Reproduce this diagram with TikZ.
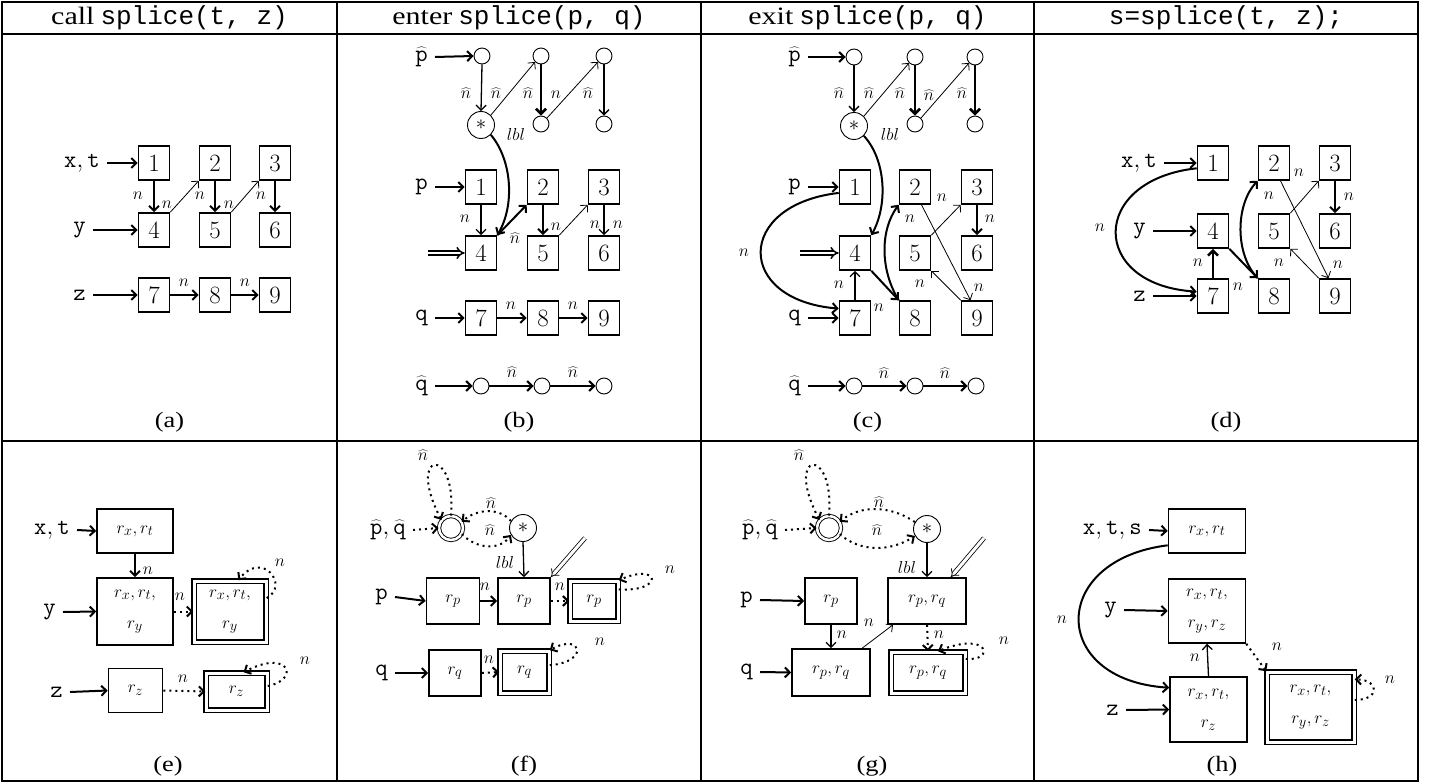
\documentclass[tikz,border=0pt]{standalone}
\usepackage{fontspec}
\setmainfont{Liberation Serif}
\newfontfamily\hdrserif[FakeStretch=1.2]{Liberation Serif}
\newfontfamily\cour{Liberation Mono}
\usetikzlibrary{arrows.meta}
\tikzset{
 arw/.style={-{Straight Barb[length=5pt,width=10pt]}},
 frm/.style={line width=1.8pt},
 bx/.style={draw, line width=1.6pt, minimum width=31pt, minimum height=34pt, inner sep=0pt, font=\fontsize{28}{28}\selectfont},
 rb/.style={draw, line width=1.6pt, inner sep=0pt, font=\fontsize{19}{31}\selectfont, align=center},
 dbx/.style={rb, double, double distance=3pt, line width=1.5pt},
 circ/.style={draw, circle, line width=0.9pt, minimum size=16pt, inner sep=0pt},
 starc/.style={circ, minimum size=27pt, font=\fontsize{20}{20}\selectfont},
 dcirc/.style={draw, circle, double, double distance=2.5pt, line width=0.9pt, minimum size=24pt, inner sep=0pt},
 lab/.style={inner xsep=7pt, inner ysep=1pt, font=\fontsize{24}{24}\selectfont},
 nl/.style={inner sep=0pt, font=\fontsize{16}{16}\selectfont},
 captxt/.style={font=\hdrserif\fontsize{22}{22}\selectfont},
 hdr/.style={font=\fontsize{26}{26}\selectfont},
 thk/.style={arw, line width=2pt},
 vthk/.style={arw, line width=2.6pt},
 md/.style={arw, line width=1.3pt},
 thn/.style={arw, line width=0.8pt},
 dts/.style={arw, line width=2pt, dash pattern=on 2pt off 4pt},
 dbl/.style={double, double distance=3pt, line width=0.8pt, -{Implies}},
 dblk/.style={double, double distance=2.5pt, line width=1.5pt, -{Implies}},
}
\begin{document}
\begin{tikzpicture}[x=1pt,y=-1pt]
\useasboundingbox (0,0) rectangle (1434,783);
% ---------- frame ----------
\draw[frm] (2,2) rectangle (1418,781);
\draw[frm] (2,34) -- (1418,34);
\draw[frm] (2,441) -- (1418,441);
\draw[frm] (337,2) -- (337,781);
\draw[frm] (701,2) -- (701,781);
\draw[frm] (1034,2) -- (1034,781);
% ---------- headers ----------
\node[hdr] (hA) at (169.5,18) {{\hdrserif\fontsize{25}{25}\selectfont call}\kern6pt{\cour splice(t, z)}};
\node[hdr] (hB) at (519,18) {{\hdrserif\fontsize{25}{25}\selectfont enter}\kern6pt{\cour splice(p, q)}};
\node[hdr] (hC) at (867.5,18) {{\hdrserif\fontsize{25}{25}\selectfont exit}\kern6pt{\cour splice(p, q)}};
\node[hdr] (hD) at (1226,18) {{\cour s=splice(t, z);}};
% ---------- captions ----------
\node[captxt] (capa) at (169.5,422) {(a)};
\node[captxt] (capb) at (519,422) {(b)};
\node[captxt] (capc) at (867.5,422) {(c)};
\node[captxt] (capd) at (1226,422) {(d)};
\node[captxt] (cape) at (168,766) {(e)};
\node[captxt] (capf) at (524,766) {(f)};
\node[captxt] (capg) at (872,766) {(g)};
\node[captxt] (caph) at (1222,766) {(h)};
% =============== (a) ===============
\node[bx] (a1) at (154,163) {$1$};
\node[bx] (a2) at (215,163) {$2$};
\node[bx] (a3) at (275,163) {$3$};
\node[bx] (a4) at (154,230) {$4$};
\node[bx] (a5) at (215,230) {$5$};
\node[bx] (a6) at (275,230) {$6$};
\node[bx] (a7) at (154,295) {$7$};
\node[bx] (a8) at (215,295) {$8$};
\node[bx] (a9) at (275,295) {$9$};
\node[lab,anchor=east] (axt) at (107,163) {$\mathtt{x},\mathtt{t}$};
\node[lab,anchor=east] (ay) at (93,230) {$\mathtt{y}$};
\node[lab,anchor=east] (az) at (93,295) {$\mathtt{z}$};
\draw[thk] (axt.east) -- (a1.west);
\draw[thk] (ay.east) -- (a4.west);
\draw[thk] (az.east) -- (a7.west);
\draw[thk] (a1.south) -- (a4.north);
\draw[thn] (a4.north east) -- (a2.south west);
\draw[thk] (a2.south) -- (a5.north);
\draw[thn] (a5.north east) -- (a3.south west);
\draw[thk] (a3.south) -- (a6.north);
\draw[thk] (a7.east) -- (a8.west);
\draw[thk] (a8.east) -- (a9.west);
\node[nl] (an1) at (138,196) {$n$};
\node[nl] (an2) at (167,205) {$n$};
\node[nl] (an3) at (200,196) {$n$};
\node[nl] (an4) at (229,205) {$n$};
\node[nl] (an5) at (261,196) {$n$};
\node[nl] (an6) at (184,283) {$n$};
\node[nl] (an7) at (245,283) {$n$};
% =============== (b) ===============
\node[lab,anchor=east] (bph) at (435,57) {$\widehat{\mathtt{p}}$};
\node[circ] (bc1) at (482,56) {};
\node[circ] (bc2) at (541,56) {};
\node[circ] (bc3) at (604,56) {};
\node[starc] (bst) at (481,125) {$*$};
\node[circ] (bc2b) at (541,124) {};
\node[circ] (bc3b) at (604,124) {};
\draw[thk] (bph.east) -- (bc1.west);
\draw[md] (bc1.south) -- (bst.north);
\draw[thn] (bst.45) -- (bc2.225);
\draw[vthk] (bc2.south) -- (bc2b.north);
\draw[thn] (bc2b.45) -- (bc3.225);
\draw[md] (bc3.south) -- (bc3b.north);
\node[nl] (bn1) at (466,93) {$\widehat{n}$};
\node[nl] (bn2) at (496,93) {$\widehat{n}$};
\node[nl] (bn3) at (528,93) {$\widehat{n}$};
\node[nl] (bn4) at (556,95) {$n$};
\node[nl] (bn5) at (588,93) {$\widehat{n}$};
\node[nl] (blbl) at (516,135) {$lbl$};
\node[bx] (b1) at (481,187) {$1$};
\node[bx] (b2) at (543,187) {$2$};
\node[bx] (b3) at (604,187) {$3$};
\node[bx] (b4) at (481,253) {$4$};
\node[bx] (b5) at (543,253) {$5$};
\node[bx] (b6) at (604,253) {$6$};
\node[bx] (b7) at (481,318) {$7$};
\node[bx] (b8) at (543,318) {$8$};
\node[bx] (b9) at (604,318) {$9$};
\node[lab,anchor=east] (bp) at (435,187) {$\mathtt{p}$};
\node[lab,anchor=east] (bq) at (435,318) {$\mathtt{q}$};
\coordinate (bdin) at (428,253);
\draw[thk] (bp.east) -- (b1.west);
\draw[thk] (bq.east) -- (b7.west);
\draw[dblk] (bdin) -- (b4.west);
\draw[md] (b1.south) -- (b4.north);
\draw[thk] (bst.-45) .. controls (512,160) and (515,205) .. (b4.north east);
\draw[thk] (b4.north east) -- (b2.south west);
\draw[thk] (b2.south) -- (b5.north);
\draw[thn] (b5.north east) -- (b3.south west);
\draw[md] (b3.south) -- (b6.north);
\draw[thk] (b7.east) -- (b8.west);
\draw[thk] (b8.east) -- (b9.west);
\node[nl] (bn6) at (465,219) {$n$};
\node[nl] (bn7) at (556,227) {$n$};
\node[nl] (bn8) at (595,225) {$n$};
\node[nl] (bn9) at (618,225) {$n$};
\node[nl] (bn10) at (515,238) {$\widehat{n}$};
\node[nl] (bn11) at (511,306) {$n$};
\node[nl] (bn12) at (573,306) {$n$};
\node[lab,anchor=east] (bqh) at (435,386) {$\widehat{\mathtt{q}}$};
\node[circ] (bq1) at (481,386) {};
\node[circ] (bq2) at (542,386) {};
\node[circ] (bq3) at (604,386) {};
\draw[thk] (bqh.east) -- (bq1.west);
\draw[thk] (bq1.east) -- (bq2.west);
\draw[thk] (bq2.east) -- (bq3.west);
\node[nl] (bn13) at (512,372) {$\widehat{n}$};
\node[nl] (bn14) at (573,372) {$\widehat{n}$};
% =============== (c) ===============
\node[lab,anchor=east] (cph) at (808,57) {$\widehat{\mathtt{p}}$};
\node[circ] (cc1) at (854,57) {};
\node[circ] (cc2) at (915,57) {};
\node[circ] (cc3) at (975,57) {};
\node[starc] (cst) at (854,126) {$*$};
\node[circ] (cc2b) at (915,124) {};
\node[circ] (cc3b) at (975,124) {};
\draw[thk] (cph.east) -- (cc1.west);
\draw[md] (cc1.south) -- (cst.north);
\draw[thn] (cst.45) -- (cc2.225);
\draw[vthk] (cc2.south) -- (cc2b.north);
\draw[thn] (cc2b.45) -- (cc3.225);
\draw[vthk] (cc3.south) -- (cc3b.north);
\node[nl] (cn1) at (839,93) {$\widehat{n}$};
\node[nl] (cn2) at (869,93) {$\widehat{n}$};
\node[nl] (cn3) at (900,93) {$\widehat{n}$};
\node[nl] (cn4) at (929,95) {$\widehat{n}$};
\node[nl] (cn5) at (962,93) {$\widehat{n}$};
\node[nl] (clbl) at (890,135) {$lbl$};
\node[bx] (c1) at (855,187) {$1$};
\node[bx] (c2) at (915,187) {$2$};
\node[bx] (c3) at (977,187) {$3$};
\node[bx] (c4) at (855,253) {$4$};
\node[bx] (c5) at (915,253) {$5$};
\node[bx] (c6) at (977,253) {$6$};
\node[bx] (c7) at (855,318) {$7$};
\node[bx] (c8) at (915,318) {$8$};
\node[bx] (c9) at (977,318) {$9$};
\node[lab,anchor=east] (cp) at (808,187) {$\mathtt{p}$};
\node[lab,anchor=east] (cq) at (808,318) {$\mathtt{q}$};
\coordinate (cdin) at (800,253);
\draw[thk] (cp.east) -- (c1.west);
\draw[thk] (cq.east) -- (c7.west);
\draw[dblk] (cdin) -- (c4.west);
\draw[thk] (cst.-45) .. controls (886,160) and (888,205) .. (c4.north east);
\draw[thk] (c1.200) .. controls (735,205) and (735,300) .. (c7.150);
\draw[md] (c7.north) -- (c4.south);
\draw[thk] (c4.south east) -- (c8.north west);
\draw[thk] (c8.north west) .. controls (880,270) and (880,230) .. (c2.south west);
\draw[thn] (c2.-70) -- (c9.110);
\draw[thn] (c5.north east) -- (c3.south west);
\draw[thn] (c9.north west) -- (c5.south east);
\draw[thk] (c3.south) -- (c6.north);
\node[nl] (cn6) at (744,253) {$n$};
\node[nl] (cn7) at (839,285) {$n$};
\node[nl] (cn8) at (879,308) {$n$};
\node[nl] (cn9) at (910,219) {$n$};
\node[nl] (cn10) at (942,198) {$n$};
\node[nl] (cn11) at (920,284) {$n$};
\node[nl] (cn12) at (979,288) {$n$};
\node[nl] (cn13) at (990,219) {$n$};
\node[lab,anchor=east] (cqh) at (808,386) {$\widehat{\mathtt{q}}$};
\node[circ] (cq1) at (854,386) {};
\node[circ] (cq2) at (915,386) {};
\node[circ] (cq3) at (976,386) {};
\draw[thk] (cqh.east) -- (cq1.west);
\draw[thk] (cq1.east) -- (cq2.west);
\draw[thk] (cq2.east) -- (cq3.west);
\node[nl] (cn14) at (884,373) {$\widehat{n}$};
\node[nl] (cn15) at (945,373) {$\widehat{n}$};
% =============== (d) ===============
\node[bx] (d1) at (1213,163) {$1$};
\node[bx] (d2) at (1274,163) {$2$};
\node[bx] (d3) at (1335,163) {$3$};
\node[bx] (d4) at (1213,231) {$4$};
\node[bx] (d5) at (1274,231) {$5$};
\node[bx] (d6) at (1335,231) {$6$};
\node[bx] (d7) at (1213,296) {$7$};
\node[bx] (d8) at (1274,296) {$8$};
\node[bx] (d9) at (1335,296) {$9$};
\node[lab,anchor=east] (dxt) at (1164,163) {$\mathtt{x},\mathtt{t}$};
\node[lab,anchor=east] (dy) at (1153,231) {$\mathtt{y}$};
\node[lab,anchor=east] (dz) at (1153,296) {$\mathtt{z}$};
\draw[thk] (dxt.east) -- (d1.west);
\draw[thk] (dy.east) -- (d4.west);
\draw[thk] (dz.east) -- (d7.west);
\draw[thk] (d1.198) .. controls (1089,180) and (1089,285) .. (d7.165);
\draw[vthk] (d7.north) -- (d4.south);
\draw[thk] (d4.south east) -- (d8.north west);
\draw[thk] (d8.north west) .. controls (1235,255) and (1235,205) .. (d2.south west);
\draw[thn] (d2.-70) -- (d9.110);
\draw[thn] (d5.north east) -- (d3.south west);
\draw[thn] (d9.north west) -- (d5.south east);
\draw[thk] (d3.south) -- (d6.north);
\node[nl] (dn1) at (1100,228) {$n$};
\node[nl] (dn2) at (1198,263) {$n$};
\node[nl] (dn3) at (1238,287) {$n$};
\node[nl] (dn4) at (1269,196) {$n$};
\node[nl] (dn5) at (1299,173) {$n$};
\node[nl] (dn6) at (1279,263) {$n$};
\node[nl] (dn7) at (1338,265) {$n$};
\node[nl] (dn8) at (1349,197) {$n$};
% =============== (e) ===============
\node[rb, minimum width=76pt, minimum height=44pt] (e1) at (135,531) {$r_x,r_t$};
\node[rb, minimum width=76pt, minimum height=67pt] (e2) at (135,611.5) {$r_x,r_t,$\\$r_y$};
\node[dbx, minimum width=72pt, minimum height=61pt] (e3) at (230,611.5) {$r_x,r_t,$\\$r_y$};
\node[lab,anchor=east] (ext) at (77,530) {$\mathtt{x},\mathtt{t}$};
\node[lab,anchor=east] (ey) at (63,612) {$\mathtt{y}$};
\draw[thk] (ext.east) -- (e1.west);
\draw[thk] (ey.east) -- (e2.west);
\draw[thk] (e1.south) -- (e2.north);
\draw[dts] (e2.east) -- (e3.west);
\draw[dts] (e3.20) .. controls (290,585) and (262,550) .. (e3.75);
\node[nl] (en1) at (148,571) {$n$};
\node[nl] (en2) at (180,597) {$n$};
\node[nl] (en3) at (280,563) {$n$};
\node[rb, minimum width=54pt, minimum height=44pt] (e4) at (135.5,690.5) {$r_z$};
\node[dbx, minimum width=61pt, minimum height=37pt] (e5) at (236.5,691.5) {$r_z$};
\node[lab,anchor=east] (ez) at (70,692) {$\mathtt{z}$};
\draw[thk] (ez.east) -- (e4.west);
\draw[dts] (e4.east) -- (e5.west);
\draw[dts] (e5.10) .. controls (300,680) and (290,648) .. (e5.70);
\node[nl] (en4) at (183,679) {$n$};
\node[nl] (en5) at (305,661) {$n$};
% =============== (f) ===============
\node[lab,anchor=east] (fpq) at (413,530) {$\widehat{\mathtt{p}},\widehat{\mathtt{q}}$};
\node[dcirc] (fdc) at (451,528) {};
\node[starc] (fst) at (523,528) {$*$};
\draw[dts] (fpq.east) -- (fdc.west);
\draw[dts] (fdc.90) .. controls (457,445) and (405,450) .. (fdc.140);
\draw[dts] (fst.150) .. controls (500,508) and (478,508) .. (fdc.30);
\draw[dts] (fdc.-30) .. controls (478,550) and (500,550) .. (fst.-150);
\node[nl] (fn1) at (423,455) {$\widehat{n}$};
\node[nl] (fn2) at (491,503) {$\widehat{n}$};
\node[nl] (fn3) at (490,530) {$\widehat{n}$};
\node[rb, minimum width=53pt, minimum height=46pt] (f1) at (453,601) {$r_p$};
\node[rb, minimum width=52pt, minimum height=46pt] (f2) at (524,601) {$r_p$};
\node[dbx, minimum width=48pt, minimum height=40pt] (f3) at (594,601) {$r_p$};
\node[lab,anchor=east] (fp) at (395,597) {$\mathtt{p}$};
\coordinate (fdd) at (585,538);
\draw[thk] (fp.east) -- (f1.west);
\draw[md] (fst.south) -- (f2.north);
\draw[dbl] (fdd) -- (f2.north east);
\draw[thk] (f1.east) -- (f2.west);
\draw[dts] (f2.east) -- (f3.west);
\draw[dts] (f3.25) .. controls (665,592) and (660,562) .. (f3.north east);
\node[nl] (flbl) at (505,562) {$lbl$};
\node[nl] (fn4) at (485,587) {$n$};
\node[nl] (fn5) at (560,587) {$n$};
\node[nl] (fn6) at (670,570) {$n$};
\node[rb, minimum width=52pt, minimum height=46pt] (f4) at (455,673) {$r_q$};
\node[dbx, minimum width=49pt, minimum height=42pt] (f5) at (524.5,672) {$r_q$};
\node[lab,anchor=east] (fq) at (395,673) {$\mathtt{q}$};
\draw[thk] (fq.east) -- (f4.west);
\draw[dts] (f4.east) -- (f5.west);
\draw[dts] (f5.15) .. controls (590,662) and (582,632) .. (f5.north east);
\node[nl] (fn7) at (489,660) {$n$};
\node[nl] (fn8) at (600,642) {$n$};
% =============== (g) ===============
\node[lab,anchor=east] (gpq) at (785,530) {$\widehat{\mathtt{p}},\widehat{\mathtt{q}}$};
\node[dcirc] (gdc) at (829,528) {};
\node[starc] (gst) at (927,529) {$*$};
\draw[dts] (gpq.east) -- (gdc.west);
\draw[dts] (gdc.90) .. controls (835,445) and (783,450) .. (gdc.140);
\draw[dts] (gst.150) .. controls (890,505) and (860,505) .. (gdc.30);
\draw[dts] (gdc.-30) .. controls (860,552) and (890,552) .. (gst.-150);
\node[nl] (gn1) at (799,455) {$\widehat{n}$};
\node[nl] (gn2) at (879,502) {$\widehat{n}$};
\node[nl] (gn3) at (877,530) {$\widehat{n}$};
\node[rb, minimum width=52pt, minimum height=46pt] (g1) at (831,601) {$r_p$};
\node[rb, minimum width=78pt, minimum height=46pt] (g2) at (927,601) {$r_p,r_q$};
\node[lab,anchor=east] (gp) at (760,600) {$\mathtt{p}$};
\coordinate (gdd) at (984,538);
\draw[thk] (gp.east) -- (g1.west);
\draw[md] (gst.south) -- (g2.north);
\draw[dbl] (gdd) -- (g2.45);
\node[nl] (glbl) at (907,567) {$lbl$};
\node[rb, minimum width=78pt, minimum height=47pt] (g3) at (831,672.5) {$r_p,r_q$};
\node[dbx, minimum width=74pt, minimum height=41pt] (g4) at (928,672.5) {$r_p,r_q$};
\node[lab,anchor=east] (gq) at (760,672) {$\mathtt{q}$};
\draw[thk] (gq.east) -- (g3.west);
\draw[md] (g1.south) -- (g3.north);
\draw[thn] (g3.38) -- (g2.215);
\draw[dts] (g2.south) -- (g4.north);
\draw[dts] (g4.20) .. controls (995,662) and (990,630) .. (g4.65);
\node[nl] (gn4) at (842,635) {$n$};
\node[nl] (gn5) at (869,623) {$n$};
\node[nl] (gn6) at (939,635) {$n$};
\node[nl] (gn7) at (1004,641) {$n$};
% =============== (h) ===============
\node[rb, minimum width=77pt, minimum height=44pt] (h1) at (1207,531) {$r_x,r_t$};
\node[rb, minimum width=77pt, minimum height=64pt] (h2) at (1207,611) {$r_x,r_t,$\\$r_y,r_z$};
\node[rb, minimum width=77pt, minimum height=65pt] (h3) at (1208.5,709.5) {$r_x,r_t,$\\$r_z$};
\node[dbx, minimum width=87pt, minimum height=70pt] (h4) at (1310.5,707) {$r_x,r_t,$\\$r_y,r_z$};
\node[lab,anchor=east] (hxt) at (1149,530) {$\mathtt{x},\mathtt{t},\mathtt{s}$};
\node[lab,anchor=east] (hy) at (1124,610) {$\mathtt{y}$};
\node[lab,anchor=east] (hz) at (1126,710) {$\mathtt{z}$};
\draw[thk] (hxt.east) -- (h1.west);
\draw[thk] (hy.east) -- (h2.west);
\draw[thk] (hz.east) -- (h3.west);
\draw[md] (h3.north) -- (h2.south);
\draw[thk] (h1.200) .. controls (1049,560) and (1049,680) .. (h3.151);
\draw[dts] (h2.south east) -- (h4.north west);
\draw[dts] (h4.9) .. controls (1380,700) and (1380,680) .. (h4.32);
\node[nl] (hn1) at (1062,620) {$n$};
\node[nl] (hn2) at (1195,658) {$n$};
\node[nl] (hn3) at (1277,647) {$n$};
\node[nl] (hn4) at (1390,680) {$n$};
\end{tikzpicture}
\end{document}
